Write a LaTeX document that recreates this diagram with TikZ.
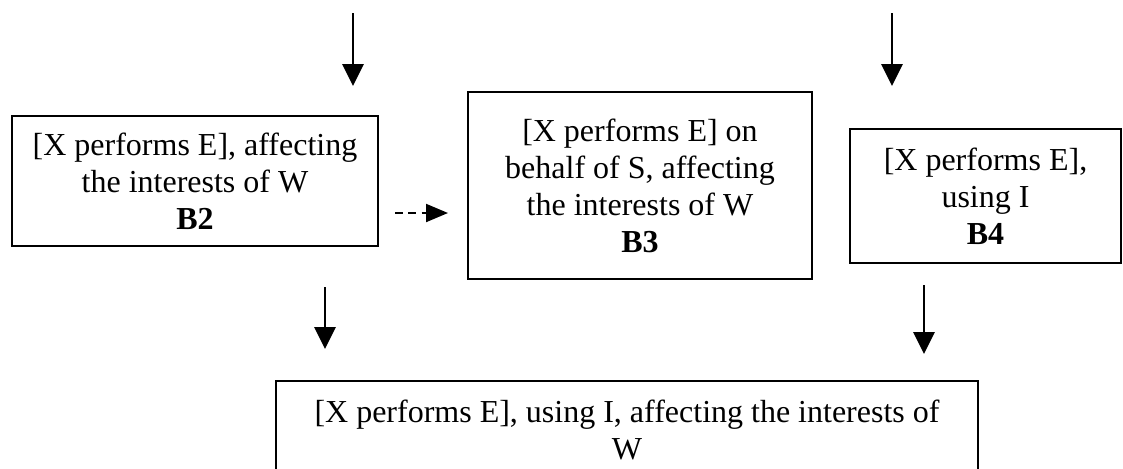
\documentclass[tikz,border=0pt]{standalone}
\usepackage{fontspec}
\setmainfont{Liberation Serif}
\usetikzlibrary{arrows.meta}
\tikzset{
  boxnode/.style={draw=black, line width=1.4pt, align=center, inner sep=0pt,
    font=\fontsize{24pt}{27.75pt}\selectfont},
  flowarrow/.style={line width=1.5pt, -{Triangle[length=16.5pt,width=16pt]}},
  dasharrow/.style={line width=1.5pt, dash pattern=on 6pt off 4pt,
    -{Triangle[length=16.5pt,width=13.5pt]}}
}
\begin{document}
\begin{tikzpicture}[x=0.75pt,y=-0.75pt]
\useasboundingbox (0,0) rectangle (1123,468);
\clip (0,0) rectangle (1123,468);
\fill[white] (0,0) rectangle (1123,468);

\node[boxnode, minimum width=366*0.75pt, minimum height=130*0.75pt] (b2) at (195,181)
  {[X performs E], affecting\\the interests of W\\\textbf{B2}};
\node[boxnode, minimum width=344*0.75pt, minimum height=187*0.75pt] (b3) at (640,185.5)
  {[X performs E] on\\behalf of S, affecting\\the interests of W\\\textbf{B3}};
\node[boxnode, minimum width=271*0.75pt, minimum height=134*0.75pt] (b4) at (985.5,196)
  {[X performs E],\\using I\\\textbf{B4}};
\node[boxnode, minimum width=702*0.75pt, minimum height=97*0.75pt] (b5) at (627,429.5)
  {[X performs E], using I, affecting the interests of\\W};

\coordinate (a1s) at (353,13);  \coordinate (a1e) at (353,86);
\coordinate (a2s) at (892,13);  \coordinate (a2e) at (892,86);
\coordinate (a3s) at (325,287); \coordinate (a3e) at (325,349);
\coordinate (a4s) at (924,285); \coordinate (a4e) at (924,354);
\coordinate (d1s) at (395,213); \coordinate (d1e) at (448,213);

\draw[flowarrow] (a1s) -- (a1e);
\draw[flowarrow] (a2s) -- (a2e);
\draw[flowarrow] (a3s) -- (a3e);
\draw[flowarrow] (a4s) -- (a4e);
\draw[dasharrow] (d1s) -- (d1e);
\end{tikzpicture}
\end{document}
